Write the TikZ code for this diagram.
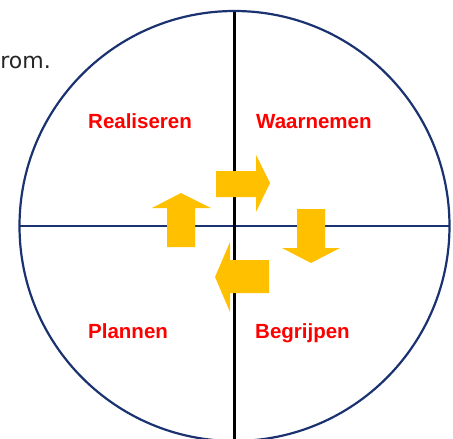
\documentclass[tikz,border=0pt]{standalone}
\usepackage{fontspec}
\setmainfont{Liberation Sans}
\newfontfamily\tekstfont{DejaVu Sans}
\definecolor{cirkelblauw}{HTML}{1A3270}
\definecolor{pijlgeel}{HTML}{FFC000}
\definecolor{labelrood}{HTML}{FF0000}
\def\Mx{234.5}
\def\My{226}
\def\Straal{215}

\begin{document}
\begin{tikzpicture}[
  x=1pt, y=-1pt, line join=miter,
  as/.style    ={line width=2.2pt},
  blokpijl/.style={fill=pijlgeel, draw=none},
  fase/.style  ={labelrood, anchor=base west, inner sep=0pt,
                 font=\fontsize{20.5}{24}\selectfont\bfseries}
]
\useasboundingbox (0,0) rectangle (453,439);

% --- Cirkel en assen ----------------------------------------------------
\coordinate (boven) at (\Mx,\My-\Straal);
\coordinate (onder) at (\Mx,439);
\coordinate (links) at (\Mx-\Straal,\My);
\coordinate (rechts) at (\Mx+\Straal,\My);

\draw[as, cirkelblauw] (links) -- (rechts);
\draw[as, black] (boven) -- (onder);
\draw[as, cirkelblauw] (\Mx,\My) circle[radius=\Straal];

% --- Fasen ------------------------------------------------------------
\node[fase] (realiseren) at (88,128) {Realiseren};
\node[fase] (waarnemen)  at (256,128) {Waarnemen};
\node[fase] (plannen)    at (88,338) {Plannen};
\node[fase] (begrijpen)  at (255,338) {Begrijpen};

% --- Afgesneden tekst linksboven -----------------------------------------
\node[anchor=base east, inner sep=0pt, text=black!85,
      font=\tekstfont\fontsize{22}{26}\selectfont] (rest) at (51,68) {rom.};

% --- Blokpijlen (met de klok mee) -------------------------------------
\fill[blokpijl] (216,171) -- (256,171) -- (256,155) -- (270,183)
  -- (256,212) -- (256,197) -- (216,197) -- cycle;
\fill[blokpijl] (297,209) -- (325,209) -- (325,248) -- (340,248)
  -- (311,263) -- (282,248) -- (297,248) -- cycle;
\fill[blokpijl] (269,260) -- (230,260) -- (230,242) -- (215,277)
  -- (230,312) -- (230,293) -- (269,293) -- cycle;
\fill[blokpijl] (167,247) -- (167,208) -- (152,208) -- (181,193)
  -- (211,208) -- (195,208) -- (195,247) -- cycle;

\end{tikzpicture}
\end{document}
